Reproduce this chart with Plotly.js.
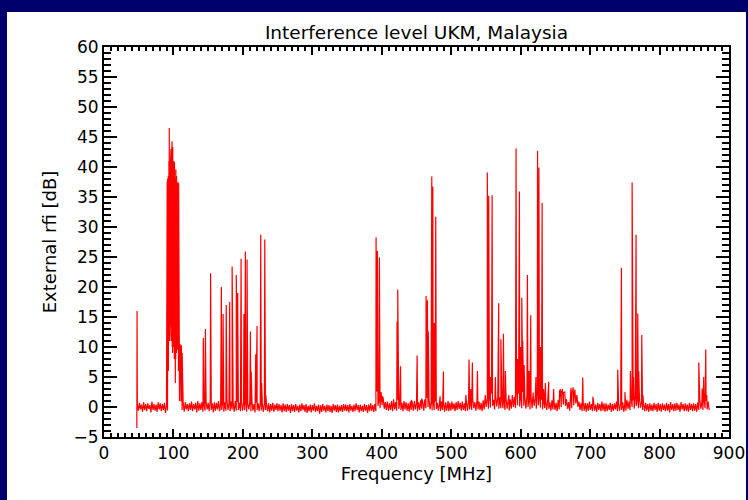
<!DOCTYPE html>
<html>
<head>
<meta charset="utf-8">
<script src="https://cdn.plot.ly/plotly-3.0.1.min.js"></script>
<style>
  html, body { margin: 0; padding: 0; background: #00006c; width: 748px; height: 500px; overflow: hidden; }
  #chart { position: absolute; left: 7px; top: 12px; width: 739px; height: 488px; background: #ffffff; }
</style>
</head>
<body>
<div id="chart"></div>
<script>
// Noise floor in 3 MHz bins from 48 MHz: bin maximum (at bin start) and minimum (mid-bin), dB
const floorStart = 48;
const floorStep = 3;
const floorHigh = [
  0.5, 0.7, 0.4, 0.8, 0.5, 0.6, 0.3, 0.9, 0.5, 0.4, 0.8, 0.6, 0.5, 0.7, 0.4, 0.0, 0.0, 0.0, 0.0, 0.0, 0.0, 0.9, 0.6, 0.8, 0.5,
  0.6, 0.9, 0.5, 0.7, 1.0, 0.6, 0.8, 0.5, 0.9, 0.7, 1.1, 0.6, 0.8, 0.7, 1.0, 0.6, 0.9, 0.8, 1.2, 0.7, 0.9, 0.6, 1.0, 0.8, 0.7,
  0.9, 0.7, 1.0, 0.6, 0.8, 0.9, 0.5, 0.7, 0.6, 0.8, 0.5, 0.7, 0.4, 0.6, 0.5, 0.7, 0.4, 0.6, 0.5, 0.3, 0.6, 0.4, 0.5, 0.3, 0.5,
  0.3, 0.5, 0.2, 0.4, 0.6, 0.3, 0.5, 0.2, 0.4, 0.3, 0.6, 0.2, 0.4, 0.3, 0.5, 0.2, 0.4, 0.3, 0.2, 0.5, 0.3, 0.4, 0.2, 0.3, 0.5,
  0.4, 0.3, 0.5, 0.2, 0.4, 0.6, 0.3, 0.4, 0.2, 0.5, 0.3, 0.4, 0.6, 0.3, 0.5, 2.6, 1.2, 2.5, 1.5, 0.8, 0.9, 0.6, 1.0, 1.3, 0.8,
  1.2, 0.9, 0.7, 1.0, 0.8, 0.6, 0.9, 0.7, 1.0, 0.6, 0.8, 1.1, 0.9, 1.3, 1.5, 1.2, 0.8, 1.0, 0.9, 0.7, 0.6, 0.9, 0.7, 0.8, 0.6,
  0.7, 0.9, 0.6, 0.8, 1.0, 0.7, 0.9, 0.6, 0.8, 1.2, 0.9, 1.3, 0.8, 1.0, 0.9, 0.7, 1.1, 2.0, 1.4, 1.8, 2.2, 1.2, 1.9, 1.5, 1.6,
  1.6, 1.0, 1.4, 0.9, 1.3, 2.0, 1.7, 2.8, 2.2, 1.8, 2.5, 1.6, 1.9, 1.4, 1.7, 2.4, 1.5, 2.6, 1.8, 1.2, 1.5, 1.0, 1.3, 0.8, 1.1,
  1.0, 0.7, 1.2, 2.2, 2.8, 2.4, 1.3, 0.8, 1.4, 2.5, 2.9, 2.0, 0.9, 0.6, 0.8, 0.7, 0.6, 0.9, 0.5, 0.8, 0.4, 0.7, 0.5, 0.9, 0.6,
  0.6, 0.4, 0.7, 0.5, 0.6, 0.9, 0.5, 0.7, 0.8, 0.5, 1.2, 0.9, 1.5, 1.1, 1.8, 1.3, 1.4, 0.8, 0.6, 0.7, 0.5, 0.6, 0.4, 0.7, 0.5,
  0.7, 0.5, 0.6, 0.4, 0.7, 0.5, 0.8, 0.5, 0.6, 0.7, 0.4, 0.8, 0.5, 0.6, 0.4, 0.7, 0.5, 0.6, 0.5, 0.8, 1.2, 0.9, 1.5, 1.0, 0.9
];
const floorLow = [
  -0.6, -0.4, -0.8, -0.5, -0.7, -0.3, -0.9, -0.5, -0.6, -0.8, -0.4, -0.7, -0.5, -1.0, -0.6, 0.0, 0.0, 0.0, 0.0, 0.0, 0.0, -0.5, -0.8, -0.4, -0.7,
  -0.5, -0.7, -0.4, -0.9, -0.6, -0.5, -0.8, -0.6, -0.4, -0.7, -0.5, -0.9, -0.6, -0.4, -0.7, -0.5, -0.8, -0.6, -0.5, -0.7, -0.4, -0.8, -0.6, -0.5, -0.7,
  -0.6, -0.5, -0.8, -0.4, -0.7, -0.6, -0.9, -0.5, -0.7, -0.6, -0.8, -0.5, -0.7, -0.9, -0.6, -0.8, -0.5, -0.7, -0.6, -0.9, -0.7, -0.8, -0.6, -1.0, -0.7,
  -0.8, -0.6, -0.9, -0.7, -0.5, -0.8, -1.0, -0.7, -0.9, -0.6, -0.8, -0.7, -1.1, -0.8, -0.6, -0.9, -0.7, -0.8, -1.0, -0.6, -0.8, -0.9, -0.7, -0.8, -0.6,
  -0.7, -0.9, -0.6, -0.8, -0.7, -0.5, -0.9, -0.7, -0.8, -0.6, -1.0, -0.7, -0.6, -0.8, -0.7, 0.2, -0.2, 0.3, -0.3, -0.5, -0.6, -0.5, -0.7, -0.4, -0.6,
  -0.3, -0.5, -0.7, -0.4, -0.6, -0.8, -0.5, -0.6, -0.4, -0.7, -0.5, -0.3, -0.6, -0.2, 0.0, -0.4, -0.6, -0.5, -0.3, -0.6, -0.7, -0.5, -0.8, -0.6, -0.7,
  -0.6, -0.4, -0.7, -0.5, -0.3, -0.6, -0.5, -0.7, -0.6, -0.4, -0.5, -0.2, -0.6, -0.4, -0.5, -0.7, -0.4, 0.0, -0.3, -0.1, 0.2, -0.4, 0.1, -0.3, -0.2,
  -0.2, -0.5, -0.3, -0.6, -0.3, 0.0, -0.2, 0.3, 0.1, -0.2, 0.2, -0.3, 0.0, -0.4, -0.2, 0.2, -0.3, 0.3, -0.1, -0.4, -0.2, -0.5, -0.3, -0.6, -0.4,
  -0.5, -0.7, -0.4, 0.0, 0.4, 0.2, -0.3, -0.6, -0.2, 0.3, 0.6, 0.0, -0.5, -0.7, -0.6, -0.8, -0.6, -0.5, -0.7, -0.6, -0.8, -0.5, -0.7, -0.6, -0.8,
  -0.7, -0.5, -0.8, -0.6, -0.4, -0.7, -0.6, -0.5, -0.8, -0.6, -0.3, -0.5, 0.0, -0.3, 0.2, -0.2, -0.1, -0.5, -0.7, -0.6, -0.8, -0.6, -0.7, -0.5, -0.8,
  -0.6, -0.8, -0.5, -0.7, -0.6, -0.9, -0.5, -0.7, -0.6, -0.5, -0.8, -0.4, -0.7, -0.6, -0.8, -0.5, -0.7, -0.6, -0.8, -0.5, -0.3, -0.5, -0.2, -0.4, -0.5
];

// FM broadcast band: per-channel peak and trough levels (dB)
const fmFreq = [
  91.0, 91.5, 92.0, 92.5, 93.0, 93.5, 94.0, 94.5, 95.0, 95.5, 96.0, 96.5,
  97.0, 97.5, 98.0, 98.5, 99.0, 99.5, 100.0, 100.5, 101.0, 101.5, 102.0, 102.5,
  103.0, 103.5, 104.0, 104.5, 105.0, 105.5, 106.0, 106.5, 107.0, 107.5, 108.0, 108.5
];
const fmTop = [
  37.5, 38.0, 37.0, 38.5, 37.5, 41.0, 46.5, 42.0, 44.0, 40.0, 41.5, 43.0,
  40.5, 42.0, 44.3, 41.0, 43.3, 40.0, 39.5, 41.0, 39.0, 40.8, 38.5, 39.5,
  38.0, 39.6, 37.5, 38.5, 37.0, 38.0, 36.5, 37.5, 36.8, 37.3, 36.0, 35.0
];
const fmBottom = [
  3.0, 5.0, 8.0, 6.0, 10.0, 12.0, 11.0, 13.0, 15.0, 11.0, 12.0, 11.0,
  10.0, 11.0, 10.0, 9.0, 11.0, 10.0, 9.0, 10.0, 8.0, 9.5, 5.0, 4.0,
  8.0, 10.0, 9.0, 10.0, 9.5, 10.0, 8.0, 9.0, 6.0, 3.0, 2.0, 1.0
];

// Narrowband interferers: carrier frequency (MHz) and level (dB)
const spikeFreq = [
  47.3, 47.6,
  109.5, 110.5, 111.5, 112.5,
  143.0, 146.0, 153.5, 169.0, 171.5, 176.0, 181.0, 184.5, 190.5, 192.5,
  197.4, 201.5, 203.6, 206.0, 210.8, 212.0, 218.5, 220.4, 225.7, 227.0, 231.5, 233.0,
  391.8, 393.7, 396.6, 399.0, 401.0,
  422.0, 423.0, 427.0, 442.7, 450.9, 457.5, 463.8, 465.7, 467.0,
  472.0, 473.5, 475.5, 477.7, 484.0, 488.8, 495.5,
  521.0, 525.7, 528.0, 530.5, 537.7,
  552.0, 554.0, 556.5, 558.9, 563.6, 568.4, 571.5, 575.2, 578.0, 583.0,
  593.4, 595.5, 598.2, 600.0, 601.6, 603.0, 605.0, 609.7, 612.0, 614.5, 618.0, 622.0,
  624.3, 626.3, 628.5, 630.9, 633.0, 635.6, 640.4, 647.5,
  656.0, 657.0, 658.5, 660.0, 661.5, 663.5, 672.5, 674.0, 675.5, 677.0,
  689.4, 704.0,
  739.8, 745.1, 750.2, 758.0, 760.5, 762.5, 766.2, 768.6, 770.0, 774.4, 776.0,
  856.5, 861.3, 863.6, 866.5, 868.0
];
const spikeLevel = [
  -3.5, 16.0,
  10.5, 8.0, 10.3, 9.0,
  11.5, 13.0, 22.3, 20.0, 15.5, 17.0, 17.5, 23.4, 22.0, 19.0,
  24.7, 15.5, 25.9, 24.6, 12.6, 5.9, 8.8, 13.5, 28.7, 4.0, 27.9, 2.0,
  28.3, 26.0, 24.9, 2.5, 1.8,
  14.2, 19.6, 6.8, 1.2, 8.6, 1.4, 18.5, 17.8, 12.6,
  38.4, 36.7, 14.0, 31.7, 1.8, 5.9, 1.0,
  2.0, 7.9, 3.0, 7.4, 6.0,
  39.1, 35.2, 5.0, 35.3, 5.0, 17.3, 11.3, 12.2, 6.0, 2.0,
  43.1, 8.0, 35.9, 10.0, 18.2, 11.0, 7.0, 22.0, 6.0, 15.3, 2.0, 5.0,
  42.7, 39.9, 10.0, 34.0, 3.0, 4.0, 4.2, 3.0,
  2.8, 3.0, 2.6, 3.0, 2.4, 2.5, 3.2, 2.8, 3.3, 2.0,
  4.9, 1.7,
  6.2, 23.2, 2.5, 6.0, 37.4, 5.0, 28.7, 15.6, 6.0, 12.0, 2.0,
  7.4, 3.1, 5.0, 9.6, 2.0
];

// Merge floor, FM band and carriers into one frequency-ordered spectrum
const pts = [];
floorHigh.forEach((v, i) => {
  const f = floorStart + i * floorStep;
  if (f < 90.5 || f > 109.5) {
    pts.push([f, v]);
    pts.push([f + floorStep / 2, floorLow[i]]);
  }
});
fmFreq.forEach((f, i) => {
  pts.push([f, fmTop[i]]);
  pts.push([f + 0.25, fmBottom[i]]);
});
spikeFreq.forEach((f, i) => pts.push([f, spikeLevel[i]]));
pts.sort((a, b) => a[0] - b[0]);

const trace = {
  x: pts.map(p => p[0]),
  y: pts.map(p => p[1]),
  type: 'scatter',
  mode: 'lines',
  line: { color: '#ff0000', width: 1.2 },
  hoverinfo: 'x+y'
};

const fam = 'DejaVu Sans, sans-serif';

const layout = {
  width: 739,
  height: 488,
  margin: { l: 97, r: 17, t: 35, b: 63 },
  paper_bgcolor: '#ffffff',
  plot_bgcolor: '#ffffff',
  showlegend: false,
  font: { family: fam, size: 17, color: '#000000' },
  title: {
    text: 'Interference level UKM, Malaysia',
    font: { family: fam, size: 18.5, color: '#000000' },
    x: 0.5, xref: 'paper',
    y: 0.957, yref: 'container', yanchor: 'middle'
  },
  xaxis: {
    range: [0, 900],
    tickmode: 'linear',
    tick0: 0,
    dtick: 100,
    ticks: 'inside',
    ticklen: 8,
    tickwidth: 2,
    tickcolor: '#000000',
    showline: true,
    linewidth: 2,
    linecolor: '#000000',
    mirror: 'ticks',
    showgrid: false,
    zeroline: false,
    ticklabeloverflow: 'allow',
    tickfont: { family: fam, size: 17, color: '#000000' },
    minor: { tickmode: 'linear', tick0: 0, dtick: 10, ticks: 'inside', ticklen: 4, tickwidth: 1.5, tickcolor: '#000000', showgrid: false },
    title: { text: 'Frequency [MHz]', font: { family: fam, size: 18, color: '#000000' }, standoff: 4 }
  },
  yaxis: {
    range: [-5, 60],
    tickmode: 'linear',
    tick0: 0,
    dtick: 5,
    ticks: 'inside',
    ticklen: 13,
    tickwidth: 2,
    tickcolor: '#000000',
    showline: true,
    linewidth: 2,
    linecolor: '#000000',
    mirror: 'ticks',
    showgrid: false,
    zeroline: false,
    tickfont: { family: fam, size: 17, color: '#000000' },
    minor: { tickmode: 'linear', tick0: 0, dtick: 1, ticks: 'inside', ticklen: 7, tickwidth: 1.5, tickcolor: '#000000', showgrid: false },
    title: { text: 'External rfi [dB]', font: { family: fam, size: 18, color: '#000000' }, standoff: 12 }
  }
};

Plotly.newPlot('chart', [trace], layout, { displayModeBar: false });
</script>
</body>
</html>
